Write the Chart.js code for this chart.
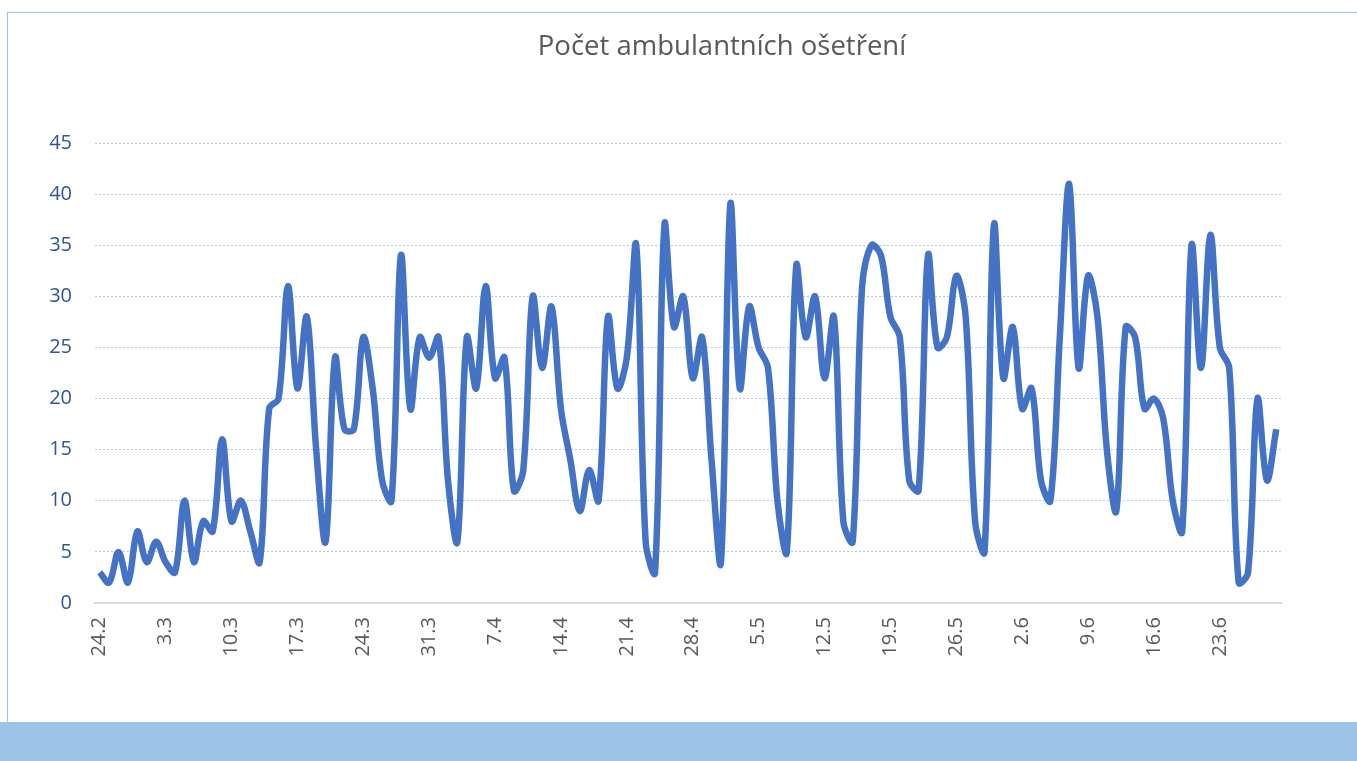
<!DOCTYPE html>
<html>
<head>
<meta charset="utf-8">
<script src="https://cdn.jsdelivr.net/npm/chart.js"></script>
<style>
  html, body { margin: 0; padding: 0; background: #fff; }
  #wrap { position: relative; width: 1357px; height: 761px; overflow: hidden; }
  #frameTop { position: absolute; left: 7px; top: 12px; right: 0; height: 1px; background: #9dc3e6; }
  #frameLeft { position: absolute; left: 7px; top: 12px; width: 1px; height: 710px; background: #9dc3e6; }
  #band { position: absolute; left: 0; top: 722px; width: 1357px; height: 39px; background: #9dc3e6; }
  #title { position: absolute; left: 472px; width: 500px; top: 26px; text-align: center;
           font-family: "Open Sans", sans-serif; font-size: 27.5px; color: #595959; }
  #box { position: absolute; left: 0; top: 0; width: 1357px; height: 722px; }
</style>
</head>
<body>
<div id="wrap">
  <div id="box"><canvas id="ambulanceChart"></canvas></div>
  <div id="frameTop"></div>
  <div id="frameLeft"></div>
  <div id="band"></div>
  <div id="title">Počet ambulantních ošetření</div>
</div>
<script>
// dny (den.měsíc)
const dny = [
  '24.2','25.2','26.2','27.2','28.2',
  '1.3','2.3','3.3','4.3','5.3','6.3','7.3','8.3','9.3','10.3','11.3','12.3','13.3','14.3','15.3','16.3',
  '17.3','18.3','19.3','20.3','21.3','22.3','23.3','24.3','25.3','26.3','27.3','28.3','29.3','30.3','31.3',
  '1.4','2.4','3.4','4.4','5.4','6.4','7.4','8.4','9.4','10.4','11.4','12.4','13.4','14.4','15.4',
  '16.4','17.4','18.4','19.4','20.4','21.4','22.4','23.4','24.4','25.4','26.4','27.4','28.4','29.4','30.4',
  '1.5','2.5','3.5','4.5','5.5','6.5','7.5','8.5','9.5','10.5','11.5','12.5','13.5','14.5','15.5','16.5',
  '17.5','18.5','19.5','20.5','21.5','22.5','23.5','24.5','25.5','26.5','27.5','28.5','29.5','30.5','31.5',
  '1.6','2.6','3.6','4.6','5.6','6.6','7.6','8.6','9.6','10.6','11.6','12.6','13.6','14.6','15.6',
  '16.6','17.6','18.6','19.6','20.6','21.6','22.6','23.6','24.6','25.6','26.6','27.6','28.6','29.6'
];

// počet ošetření za den
const pocty = [
  3, 2, 5, 2, 7, 4, 6, 4, 3, 10, 4, 8, 7, 16, 8, 10, 7, 4, 19, 20,
  31, 21, 28, 15, 6, 24, 17, 17, 26, 21, 12, 10, 34, 19, 26, 24, 26, 12, 6, 26,
  21, 31, 22, 24, 11, 13, 30, 23, 29, 19, 14, 9, 13, 10, 28, 21, 24, 35, 6, 3,
  37, 27, 30, 22, 26, 14, 4, 39, 21, 29, 25, 23, 10, 5, 33, 26, 30, 22, 28, 8,
  6, 31, 35, 34, 28, 26, 12, 11, 34, 25, 26, 32, 28, 8, 5, 37, 22, 27, 19, 21,
  12, 10, 26, 41, 23, 32, 28, 15, 9, 27, 26, 19, 20, 18, 10, 7, 35, 23, 36, 25,
  23, 2, 3, 20, 12, 17
];

const osaYMax = 45;
const osaYKrok = 5;
const krokPopisku = 7; // popisek každý týden

const ctx = document.getElementById('ambulanceChart').getContext('2d');
new Chart(ctx, {
  type: 'line',
  data: {
    labels: dny,
    datasets: [{
      label: 'Počet ambulantních ošetření',
      data: pocty,
      borderColor: '#4472c4',
      borderWidth: 6.5,
      pointRadius: 0,
      tension: 0.35,
      fill: false
    }]
  },
  options: {
    responsive: true,
    maintainAspectRatio: false,
    animation: false,
    layout: { padding: { left: 0, right: 76, top: 143, bottom: 0 } },
    plugins: {
      legend: { display: false },
      title: { display: false },
      tooltip: { enabled: false }
    },
    scales: {
      x: {
        offset: true,
        grid: { display: false, drawTicks: false },
        border: { display: true, color: '#d9d9d9', width: 2 },
        ticks: {
          autoSkip: false,
          maxRotation: 90,
          minRotation: 90,
          padding: 14,
          color: '#595959',
          font: { family: 'Open Sans', size: 20 },
          callback: function (val, i) { return i % krokPopisku === 0 ? this.getLabelForValue(val) : ''; }
        },
        afterFit: (s) => { s.height = 119; }
      },
      y: {
        min: 0,
        max: osaYMax,
        grid: {
          drawTicks: false,
          lineWidth: 1,
          color: (c) => c.tick && c.tick.value === 0 ? 'rgba(0,0,0,0)' : '#b4c7e7'
        },
        border: { display: false, dash: [2, 2] },
        ticks: {
          stepSize: osaYKrok,
          padding: 23,
          color: '#2f5597',
          font: { family: 'Open Sans', size: 20 }
        },
        afterFit: (s) => { s.width = 95; }
      }
    }
  }
});
</script>
</body>
</html>
